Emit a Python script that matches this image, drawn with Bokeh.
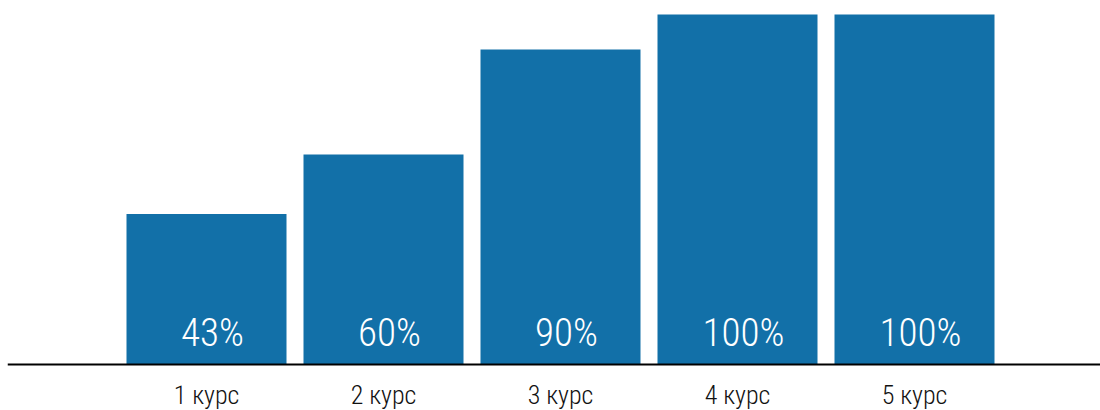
from bokeh.plotting import figure
from bokeh.models import Range1d, ColumnDataSource, Span
from bokeh.core.properties import value
from bokeh.embed import file_html
from bokeh.resources import INLINE

courses = ["1 курс", "2 курс", "3 курс", "4 курс", "5 курс"]
shares = [43, 60, 90, 100, 100]
positions = [1, 2, 3, 4, 5]

BAR_COLOR = "#1270a8"
FONT = "Roboto Condensed Light"

source = ColumnDataSource(data=dict(
    x=positions,
    top=shares,
    course=courses,
    label=[f"{v}%" for v in shares],
))

# the frame fills the whole canvas; the space under y = 0 holds the course names
p = figure(
    width=1100, height=410,
    x_range=Range1d(1 - 199 / 177, 1 + 894 / 177),
    y_range=Range1d(-46 / 3.5, 364 / 3.5),
    output_backend="svg", toolbar_location=None,
    min_border_left=7, min_border_right=0, min_border_top=0, min_border_bottom=0,
)
p.outline_line_color = None
p.xgrid.visible = False
p.ygrid.visible = False
p.xaxis.visible = False
p.yaxis.visible = False
p.background_fill_color = "white"
p.border_fill_color = "white"

p.vbar(x="x", top="top", bottom=0, width=160 / 177, source=source,
       fill_color=BAR_COLOR, line_color=None)

# baseline under the bars
p.add_layout(Span(location=0, dimension="width", line_color="black", line_width=2))

# percentage labels near the foot of each bar
p.text(x="x", y=0, text="label", source=source,
       text_color="white", text_font=value(FONT), text_font_size="39px",
       text_align="center", text_baseline="alphabetic",
       x_offset=6, y_offset=-32)

# course names under the baseline
p.text(x="x", y=0, text="course", source=source,
       text_color="#111111", text_font=value(FONT), text_font_size="26px",
       text_align="center", text_baseline="top",
       y_offset=15)

open("out.html", "w").write(file_html(p, INLINE))
